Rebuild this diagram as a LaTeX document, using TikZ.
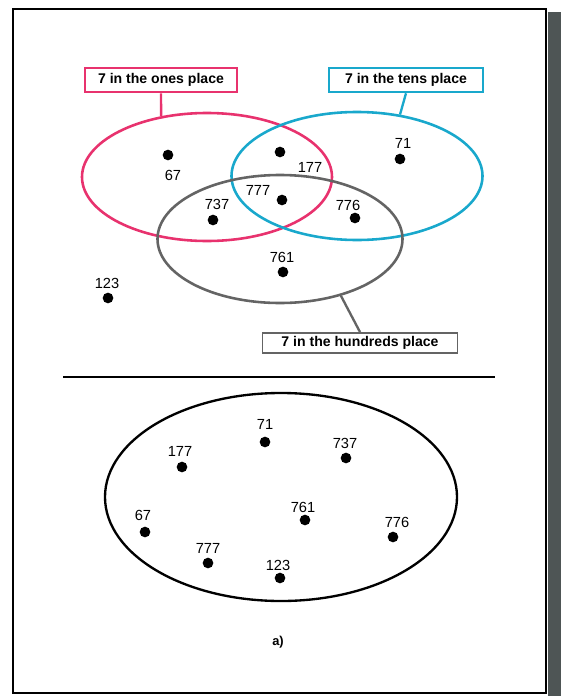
\documentclass[tikz,border=0pt]{standalone}
\usepackage{fontspec}
\setmainfont{Liberation Sans}
\usetikzlibrary{shapes.geometric}
\definecolor{ringpink}{HTML}{E8326E}
\definecolor{ringcyan}{HTML}{19A8CC}
\definecolor{ringgray}{HTML}{646464}
\definecolor{framegray}{HTML}{4E5555}

\begin{document}
\begin{tikzpicture}[x=0.03cm, y=-0.03cm,
  ring/.style={draw, ellipse, line width=2.2pt, inner sep=0pt},
  tag/.style={line width=2.2pt, fill=white, text=black, inner sep=0pt, font=\fontsize{12}{14}\selectfont\bfseries},
  dot/.style={circle, fill=black, minimum size=0.32cm, inner sep=0pt},
  num/.style={font=\fontsize{12.5}{14}\selectfont, inner sep=1pt},
  wire/.style={line width=2pt}
]
\useasboundingbox (0,0) rectangle (561,696);
\fill[framegray] (548,12) rectangle (561,696);
\draw[line width=1.6pt] (13,9) rectangle (546,693);

% the three rings
\node[ring, ringpink, minimum width=7.5cm, minimum height=3.84cm] (pinkring) at (207,177) {};
\node[ring, ringcyan, minimum width=7.53cm, minimum height=3.84cm] (cyanring) at (357,176) {};
\node[ring, ringgray, minimum width=7.35cm, minimum height=3.84cm] (grayring) at (280,239) {};

\node[tag, draw=ringpink, minimum width=4.56cm, minimum height=0.72cm] (pinktag) at (161,80) {7 in the ones place};
\node[tag, draw=ringcyan, minimum width=4.62cm, minimum height=0.72cm] (cyantag) at (406,80) {7 in the tens place};
\node[tag, draw=ringgray, line width=1.6pt, minimum width=5.85cm, minimum height=0.6cm] (graytag) at (360,343) {7 in the hundreds place};

\draw[wire, ringpink] (pinktag.south) -- (pinkring.127);
\draw[wire, ringcyan] (cyantag.south) -- (cyanring.55);
\draw[wire, ringgray] (grayring.-43) -- (graytag.north);

\node[dot] (a67) at (168,155) {};   \node[num] (t67) at (173,175) {67};
\node[dot] (a177) at (280,152) {};  \node[num] (t177) at (310,167) {177};
\node[dot] (a71) at (400,159) {};   \node[num] (t71) at (403,143) {71};
\node[dot] (a777) at (282,200) {};  \node[num] (t777) at (258,190) {777};
\node[dot] (a737) at (213,220) {};  \node[num] (t737) at (217,204) {737};
\node[dot] (a776) at (355,218) {};  \node[num] (t776) at (348,205) {776};
\node[dot] (a761) at (283,272) {};  \node[num] (t761) at (282,257) {761};
\node[dot] (a123) at (108,298) {};  \node[num] (t123) at (107,283) {123};

% divider
\coordinate (cutl) at (63,377);
\coordinate (cutr) at (495,377);
\draw[line width=1.6pt] (cutl) -- (cutr);

% the set below
\node[draw, ellipse, line width=2pt, inner sep=0pt, minimum width=10.56cm, minimum height=6.24cm] (allring) at (281,497) {};

\node[dot] (b71) at (265,442) {};   \node[num] (s71) at (265,424) {71};
\node[dot] (b177) at (182,467) {};  \node[num] (s177) at (180,451) {177};
\node[dot] (b737) at (346,458) {};  \node[num] (s737) at (345,443) {737};
\node[dot] (b67) at (145,532) {};   \node[num] (s67) at (143,515) {67};
\node[dot] (b761) at (305,520) {};  \node[num] (s761) at (303,507) {761};
\node[dot] (b776) at (393,537) {};  \node[num] (s776) at (397,522) {776};
\node[dot] (b777) at (208,563) {};  \node[num] (s777) at (208,548) {777};
\node[dot] (b123) at (280,578) {};  \node[num] (s123) at (278,565) {123};

\node[num, font=\fontsize{11}{13}\selectfont\bfseries] (caption) at (278,642) {a)};
\end{tikzpicture}
\end{document}
